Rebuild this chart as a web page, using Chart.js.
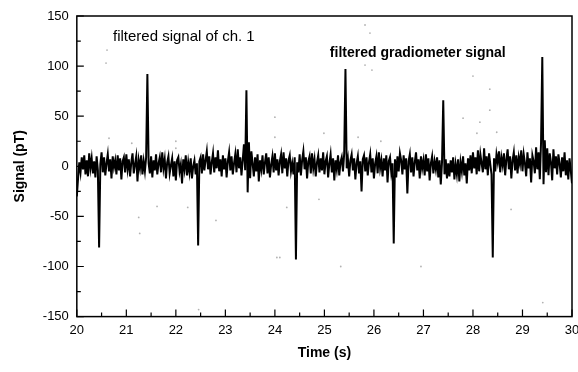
<!DOCTYPE html>
<html lang="en">
<head>
    <meta charset="UTF-8">
    <title>Filtered gradiometer signal</title>
    <script src="https://cdn.jsdelivr.net/npm/chart.js"></script>
    <style>
        html, body { margin: 0; padding: 0; background: #fff; }
        #wrap { width: 578px; height: 372px; }
    </style>
</head>
<body>
    <div id="wrap"><canvas id="grafik"></canvas></div>

    <script>
        // sampling of the trace
        const startTime = 20;
        const sampleStep = 0.025;

        // filtered gradiometer signal (pT), one value per sample
        const gradSignal = [
            -30, -12, 4, -6, 9, -3, 11, -8, 6, -10, 13, -2, 8, -7, 5, -11, 10, -4, -81, 2,
            14, -6, 9, -9, 3, 12, -5, 7, -12, 10, -1, 6, -8, 11, -4, 8, -13, 5, 9, -6,
            12, -3, 7, -10, 4, 13, -7, 2, 10, -15, 6, -2, 11, -8, 5, -5, 9, 92, 3, -7,
            10, -11, 6, -4, 12, -8, 3, 9, -6, 14, -2, 7, -12, 4, 10, -7, 1, 8, -10, 5,
            -14, 6, 9, -5, 2, -17, 7, -3, 11, -9, 4, -6, 8, -12, 0, 6, -8, 3, -79, 5,
            9, -7, 12, -4, 6, 15, -3, 10, -8, 4, 13, -6, 9, -2, 16, -5, 7, -10, 11, -3,
            8, -11, 5, 14, -4, 10, -8, 3, 12, -6, 17, -2, 9, -9, 6, 22, -4, 76, -26, 24,
            -12, 15, 3, -10, 9, -5, 12, -15, 6, -3, 11, -8, 4, 13, -7, 9, -11, 2, 10, -6,
            13, -4, 7, -9, 5, 12, -7, 14, -2, 8, -10, 6, 11, -5, 3, -8, 9, -93, 4, -6,
            12, -9, 6, 15, -3, 9, -12, 5, 10, -7, 13, -2, 7, -10, 4, 11, -6, 8, -4, 14,
            -8, 5, 10, -11, 3, 12, -6, 8, -14, 6, -3, 11, -9, 4, 9, -5, 13, 97, -2, 7,
            -10, 6, 12, -4, 8, -13, 3, 10, -7, 5, -25, 7, 11, -5, 9, -9, 4, 12, -6, 8,
            -12, 3, 10, -7, 14, -2, 6, -10, 8, -4, 11, -16, 5, 9, -6, 3, -77, 7, -11, 10,
            -5, 13, 6, -8, 11, -3, 8, -27, 5, 12, -6, 9, -10, 4, 14, -4, 7, -12, 10, -2,
            6, -9, 12, -5, 8, -14, 3, 10, -7, 5, -3, 9, -11, 6, -18, 4, 66, -8, 7, -12,
            3, -10, 6, -6, 9, -13, 2, -8, 7, -15, 4, -5, 10, -9, 3, -17, 8, -4, 11, -7,
            14, -2, 9, -8, 16, -5, 12, 3, -6, 18, -3, 10, -9, 13, 2, -8, -91, 8, -5, 12,
            4, 15, -6, 9, 1, 13, -9, 7, 17, -3, 10, -12, 6, 14, -4, 11, -7, 9, 2, 16,
            -5, 12, 3, -10, 14, -2, 8, -16, 11, 5, -7, 19, -3, 14, -13, 24, 109, -18, 26, -6,
            18, -9, 13, 4, -14, 17, -2, 10, -8, 12, 3, -11, 9, -5, 14, -9, 6, -13, 8, -4,
            -17
        ];

        // faint points of the filtered ch. 1 signal
        const ch1Times  = [20.59, 20.61, 20.65, 21.11, 21.25, 21.27, 21.62, 22.0, 22.0, 22.24, 22.46, 22.81,
                           24.0, 24.0, 24.04, 24.1, 24.24, 24.89, 24.99, 25.33, 25.68, 25.82, 25.82, 25.92,
                           25.96, 26.14, 26.95, 27.8, 28.0, 28.08, 28.14, 28.34, 28.34, 28.48, 28.77, 29.41];
        const ch1Values = [103, 116, 28, 23, -51, -67, -40, 25, 18, -41, -143, -54,
                           49, 29, -91, -91, -41, -33, 33, -100, 29, 141, 101, 133,
                           96, 25, -100, 48, 90, 33, 44, 77, 56, 34, -43, -136];

        const xTicks = [20, 21, 22, 23, 24, 25, 26, 27, 28, 29, 30];
        const yTicks = [-150, -100, -50, 0, 50, 100, 150];

        const gradPoints = gradSignal.map((v, i) => ({ x: startTime + i * sampleStep, y: v }));
        const ch1Points = ch1Times.map((t, i) => ({ x: t, y: ch1Values[i] }));

        const FONT = "'Liberation Sans', Arial, sans-serif";

        // frame, inward ticks and the two labels
        const frameTicks = {
            id: 'frameTicks',
            afterDraw(chart) {
                const { ctx, chartArea: a, scales: { x, y } } = chart;
                ctx.save();
                ctx.strokeStyle = '#000';
                ctx.lineWidth = 1.5;
                ctx.strokeRect(a.left, a.top, a.right - a.left, a.bottom - a.top);

                ctx.lineWidth = 1.2;
                ctx.beginPath();
                for (let t = xTicks[0]; t <= xTicks[xTicks.length - 1]; t += 0.5) {
                    const px = x.getPixelForValue(t);
                    const len = Number.isInteger(t) ? 7 : 4;
                    ctx.moveTo(px, a.bottom);
                    ctx.lineTo(px, a.bottom - len);
                }
                for (let v = yTicks[0]; v <= yTicks[yTicks.length - 1]; v += 25) {
                    const py = y.getPixelForValue(v);
                    const len = v % 50 === 0 ? 7 : 4;
                    ctx.moveTo(a.left, py);
                    ctx.lineTo(a.left + len, py);
                }
                ctx.stroke();

                ctx.fillStyle = '#000';
                ctx.textBaseline = 'middle';
                ctx.textAlign = 'left';
                ctx.font = '15px ' + FONT;
                ctx.fillText('filtered signal of ch. 1', x.getPixelForValue(20.73), y.getPixelForValue(129));
                ctx.font = 'bold 14px ' + FONT;
                ctx.fillText('filtered gradiometer signal', x.getPixelForValue(25.11), y.getPixelForValue(113));
                ctx.restore();
            }
        };

        const ctx = document.getElementById('grafik').getContext('2d');
        new Chart(ctx, {
            type: 'line',
            data: {
                datasets: [
                    {
                        type: 'scatter',
                        label: 'filtered signal of ch. 1',
                        data: ch1Points,
                        pointRadius: 0.9,
                        pointBackgroundColor: 'rgba(0,0,0,0.3)',
                        pointBorderWidth: 0
                    },
                    {
                        label: 'filtered gradiometer signal',
                        data: gradPoints,
                        borderColor: '#000',
                        borderWidth: 2,
                        pointRadius: 0,
                        tension: 0,
                        fill: false
                    }
                ]
            },
            options: {
                responsive: true,
                maintainAspectRatio: false,
                animation: false,
                events: [],
                layout: { padding: { left: 8, right: 6, top: 16, bottom: 10 } },
                plugins: {
                    legend: { display: false },
                    tooltip: { enabled: false }
                },
                scales: {
                    x: {
                        type: 'linear',
                        min: 20,
                        max: 30,
                        afterBuildTicks: s => { s.ticks = xTicks.map(v => ({ value: v })); },
                        afterFit: s => { s.paddingRight = 0; },
                        grid: { display: false, drawTicks: false },
                        border: { display: false },
                        ticks: { color: '#000', font: { family: FONT, size: 13 }, padding: 6 },
                        title: {
                            display: true,
                            text: 'Time (s)',
                            color: '#000',
                            font: { family: FONT, size: 14, weight: 'bold' },
                            padding: { top: 1, bottom: 0 }
                        }
                    },
                    y: {
                        min: -150,
                        max: 150,
                        afterBuildTicks: s => { s.ticks = yTicks.map(v => ({ value: v })); },
                        grid: { display: false, drawTicks: false },
                        border: { display: false },
                        ticks: { color: '#000', font: { family: FONT, size: 13 }, padding: 8 },
                        title: {
                            display: true,
                            text: 'Signal (pT)',
                            color: '#000',
                            font: { family: FONT, size: 14, weight: 'bold' },
                            padding: { top: 4, bottom: 6 }
                        }
                    }
                }
            },
            plugins: [frameTicks]
        });
    </script>
</body>
</html>
